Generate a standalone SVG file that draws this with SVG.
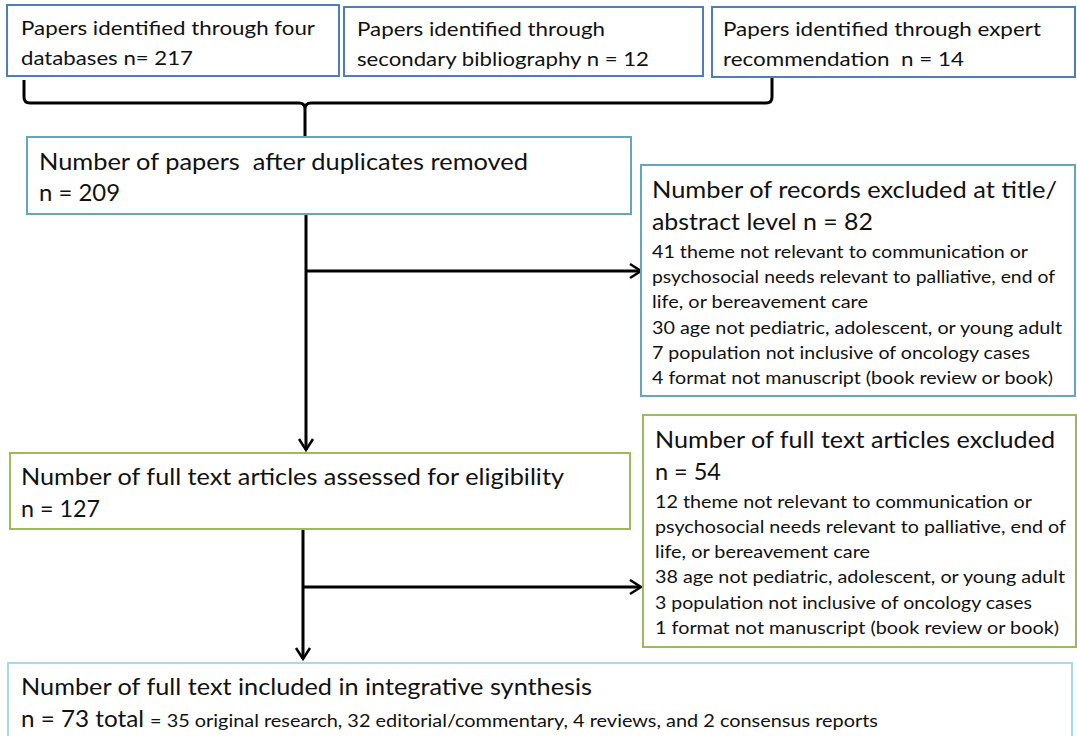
<svg xmlns="http://www.w3.org/2000/svg" width="1077" height="736" viewBox="0 0 1077 736">
<style>
text{font-family:Lato,"Open Sans","Liberation Sans",sans-serif;fill:#111;white-space:pre}
.t{font-size:20px}
.b{font-size:23px}
.s{font-size:16.5px}
.box{fill:#fff;stroke-width:2}
.blue{stroke:#4f7db8}
.teal{stroke:#65a6be}
.green{stroke:#9bbb59}
.light{stroke:#a9d8ea}
.conn{fill:none;stroke:#000;stroke-width:3}
.head{fill:none;stroke:#000;stroke-width:2.5;stroke-linejoin:miter}
</style>
<rect width="1077" height="736" fill="#fff"/>
<g id="connectors">
<path class="conn" d="M24,80 V97 Q24,103 30,103 H299 Q305,103 305,109 V136 M305,109 Q305,103 311,103 H766 Q772,103 772,97 V78"/>
<path class="conn" d="M306,214 V450 M306,271 H640"/>
<polyline class="head" points="299,439 306,450 313,439"/>
<polyline class="head" points="630,264 641,271 630,278"/>
<path class="conn" d="M303,530 V659 M303,587 H640"/>
<polyline class="head" points="296,648 303,659 310,648"/>
<polyline class="head" points="630,580 641,587 630,594"/>
</g>
<g id="n1">
<rect class="box blue" x="7" y="5" width="332" height="71"/>
<text class="t" x="21" y="35" textLength="294" lengthAdjust="spacingAndGlyphs">Papers identified through four</text>
<text class="t" x="21" y="65" textLength="172" lengthAdjust="spacingAndGlyphs">databases n= 217</text>
</g>
<g id="n2">
<rect class="box blue" x="344" y="7" width="359" height="69"/>
<text class="t" x="357" y="36" textLength="248" lengthAdjust="spacingAndGlyphs">Papers identified through</text>
<text class="t" x="357" y="66" textLength="292" lengthAdjust="spacingAndGlyphs">secondary bibliography n = 12</text>
</g>
<g id="n3">
<rect class="box blue" x="712" y="7" width="363" height="70"/>
<text class="t" x="723" y="36" textLength="318" lengthAdjust="spacingAndGlyphs">Papers identified through expert</text>
<text class="t" x="723" y="66" textLength="241" lengthAdjust="spacingAndGlyphs">recommendation  n = 14</text>
</g>
<g id="n4">
<rect class="box teal" x="27" y="137" width="604" height="77"/>
<text class="b" x="39" y="170" textLength="489" lengthAdjust="spacingAndGlyphs">Number of papers  after duplicates removed</text>
<text class="b" x="39" y="201" textLength="81" lengthAdjust="spacingAndGlyphs">n = 209</text>
</g>
<g id="n5">
<rect class="box teal" x="641" y="165" width="434" height="231"/>
<text class="b" x="652" y="198" textLength="405" lengthAdjust="spacingAndGlyphs">Number of records excluded at title/</text>
<text class="b" x="652" y="230" textLength="221" lengthAdjust="spacingAndGlyphs">abstract level n = 82</text>
<text class="s" x="652" y="258" textLength="376" lengthAdjust="spacingAndGlyphs">41 theme not relevant to communication or</text>
<text class="s" x="652" y="283" textLength="403" lengthAdjust="spacingAndGlyphs">psychosocial needs relevant to palliative, end of</text>
<text class="s" x="652" y="308" textLength="216" lengthAdjust="spacingAndGlyphs">life, or bereavement care</text>
<text class="s" x="652" y="334" textLength="410" lengthAdjust="spacingAndGlyphs">30 age not pediatric, adolescent, or young adult</text>
<text class="s" x="652" y="359" textLength="378" lengthAdjust="spacingAndGlyphs">7 population not inclusive of oncology cases</text>
<text class="s" x="652" y="384" textLength="401" lengthAdjust="spacingAndGlyphs">4 format not manuscript (book review or book)</text>
</g>
<g id="n6">
<rect class="box green" x="10" y="453" width="620" height="76"/>
<text class="b" x="21" y="485" textLength="543" lengthAdjust="spacingAndGlyphs">Number of full text articles assessed for eligibility</text>
<text class="b" x="21" y="517" textLength="79" lengthAdjust="spacingAndGlyphs">n = 127</text>
</g>
<g id="n7">
<rect class="box green" x="643" y="415" width="433" height="232"/>
<text class="b" x="655" y="448" textLength="400" lengthAdjust="spacingAndGlyphs">Number of full text articles excluded</text>
<text class="b" x="655" y="480" textLength="66" lengthAdjust="spacingAndGlyphs">n = 54</text>
<text class="s" x="655" y="508" textLength="377" lengthAdjust="spacingAndGlyphs">12 theme not relevant to communication or</text>
<text class="s" x="655" y="533" textLength="411" lengthAdjust="spacingAndGlyphs">psychosocial needs relevant to palliative, end of</text>
<text class="s" x="655" y="558" textLength="215" lengthAdjust="spacingAndGlyphs">life, or bereavement care</text>
<text class="s" x="655" y="583" textLength="410" lengthAdjust="spacingAndGlyphs">38 age not pediatric, adolescent, or young adult</text>
<text class="s" x="655" y="609" textLength="377" lengthAdjust="spacingAndGlyphs">3 population not inclusive of oncology cases</text>
<text class="s" x="655" y="634" textLength="404" lengthAdjust="spacingAndGlyphs">1 format not manuscript (book review or book)</text>
</g>
<g id="n8">
<rect class="box light" x="8" y="663" width="1064" height="80"/>
<text class="b" x="21" y="695" textLength="571" lengthAdjust="spacingAndGlyphs">Number of full text included in integrative synthesis</text>
<text class="b" x="21" y="727" textLength="123" lengthAdjust="spacingAndGlyphs">n = 73 total</text>
<text class="s" x="150" y="727" textLength="728" lengthAdjust="spacingAndGlyphs">= 35 original research, 32 editorial/commentary, 4 reviews, and 2 consensus reports</text>
</g>
</svg>
